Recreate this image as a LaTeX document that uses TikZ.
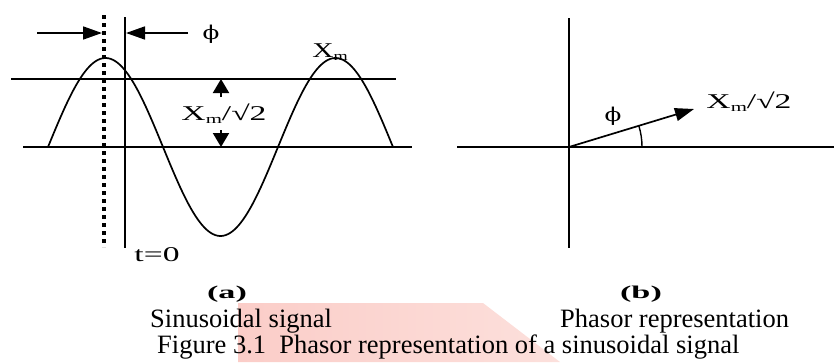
\documentclass[tikz,border=0pt]{standalone}
\usepackage{fontspec}
\setmainfont{Liberation Serif}
\newfontfamily\phifont{DejaVu Serif}
\usepackage{graphicx}
\usetikzlibrary{arrows.meta}
\newcommand{\stretchtxt}[2][1.6]{\scalebox{#1}[1]{#2}}
\newcommand{\Xm}{X\raisebox{-0.3ex}{\fontsize{13}{13}\selectfont m}}
\newcommand{\phisym}{{\phifont\fontsize{19}{19}\selectfont ϕ}}
\definecolor{wmpink}{RGB}{251,205,200}
\definecolor{wmpinkB}{RGB}{252,224,220}
\begin{document}
\begin{tikzpicture}[x=1pt,y=-1pt,
  sline/.style={line width=1.7pt},
  arr/.style={-{Triangle[length=19pt,width=13pt]}, line width=1.7pt},
  varr/.style={-{Triangle[length=14pt,width=16pt]}, line width=2pt},
  lbl/.style={inner sep=0pt, font=\fontsize{21}{21}\selectfont},
  captxt/.style={inner sep=0pt, anchor=base west, font=\fontsize{26.5}{26.5}\selectfont},
  subtxt/.style={inner sep=0pt, anchor=base, font=\bfseries\fontsize{18}{18}\selectfont}]
\useasboundingbox (0,0) rectangle (835,362);
% faint watermark behind the caption
\shade[left color=wmpink, right color=wmpinkB] (238,303) -- (483,303) -- (560,362) -- (238,362) -- cycle;

% ---------- (a) sinusoidal signal ----------
\coordinate (tl1) at (11,79);  \coordinate (tl2) at (396,79);
\coordinate (ax1) at (23,147); \coordinate (ax2) at (412,147);
\draw[sline] (tl1) -- (tl2);
\draw[sline] (ax1) -- (ax2);
\draw[sline, domain=48:393, samples=160, smooth] plot (\x, {147-89*sin(1.565217*(\x-48))});
\coordinate (dt) at (104,15); \coordinate (db) at (104,247);
\draw[line width=3.2pt, dash pattern=on 4pt off 4pt] (dt) -- (db);
\coordinate (vt) at (125,17); \coordinate (vb) at (125,248);
\draw[line width=2.1pt] (vt) -- (vb);
\node[lbl] (t0) at (157,255) {\stretchtxt{t=0}};
% phase arrows
\coordinate (pa1) at (37,33);  \coordinate (pa2) at (102,33);
\coordinate (pb1) at (188,33); \coordinate (pb2) at (126,33);
\draw[arr] (pa1) -- (pa2);
\draw[arr] (pb1) -- (pb2);
\node[lbl] (phiA) at (211,34) {\stretchtxt[1.3]{\phisym}};
\node[lbl] (xmA) at (330,52) {\stretchtxt[1.4]{\Xm}};
% rms arrows
\coordinate (u1) at (221,97);  \coordinate (u2) at (221,79);
\coordinate (d1) at (221,130); \coordinate (d2) at (221,147);
\draw[varr] (u1) -- (u2);
\draw[varr] (d1) -- (d2);
\node[lbl] (rmsA) at (224,114) {\stretchtxt{\Xm/√2}};

% ---------- (b) phasor ----------
\coordinate (O) at (569,147);
\coordinate (yt) at (569,18); \coordinate (yb) at (569,248);
\coordinate (xl) at (457,147); \coordinate (xr) at (834,147);
\draw[sline] (yt) -- (yb);
\draw[sline] (xl) -- (xr);
\coordinate (tip) at (694,109);
\draw[arr] (O) -- (tip);
\coordinate (arcS) at (642,147);
\draw[line width=1.4pt] (arcS) arc[start angle=0, end angle=-17, radius=73];
\node[lbl] (phiB) at (613,116) {\stretchtxt[1.3]{\phisym}};
\node[lbl] (rmsB) at (749,102) {\stretchtxt{\Xm/√2}};

% ---------- captions ----------
\node[subtxt] (ca) at (227,298) {\stretchtxt[1.9]{(a)}};
\node[subtxt] (cb) at (641,298) {\stretchtxt[1.9]{(b)}};
\node[captxt] (sa) at (150,327) {Sinusoidal signal};
\node[captxt] (sb) at (560,327) {Phasor representation};
\node[captxt] (fig) at (157,353) {Figure 3.1\ \ Phasor representation of a sinusoidal signal};
\end{tikzpicture}
\end{document}
